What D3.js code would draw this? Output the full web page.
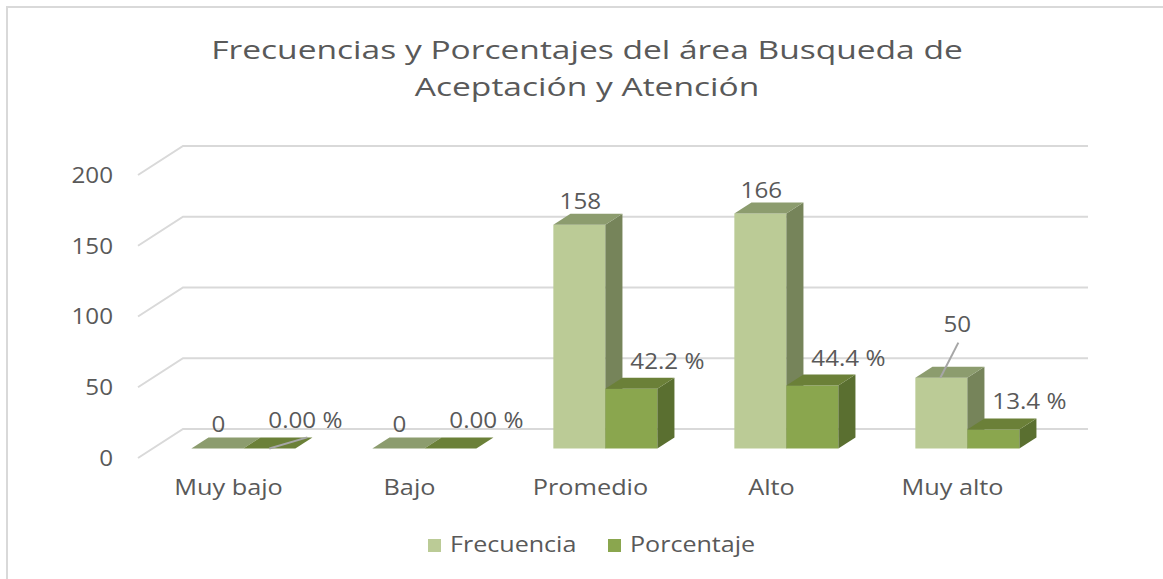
<!DOCTYPE html>
<html>
<head>
<meta charset="utf-8">
<script src="https://cdn.jsdelivr.net/npm/d3@7"></script>
<style>
  body { margin: 0; background: #fff; }
  svg { display: block; }
  text { font-family: "Open Sans", sans-serif; fill: #595959; }
</style>
</head>
<body>
<svg id="chart" width="1163" height="579"></svg>
<script>
// datos del gráfico
const categories = ['Muy bajo', 'Bajo', 'Promedio', 'Alto', 'Muy alto']
const frecuencia = [0, 0, 158, 166, 50]
const porcentaje = [0, 0, 42.2, 44.4, 13.4]
const porcentajeLabels = ['0.00 %', '0.00 %', '42.2 %', '44.4 %', '13.4 %']
const yTicks = [0, 50, 100, 150, 200]
const seriesNames = ['Frecuencia', 'Porcentaje']
const titleLines = ['Frecuencias y Porcentajes del área Busqueda de', 'Aceptación y Atención']

const colors = {
  Frecuencia: { front: '#bbcb96', side: '#76845a', top: '#8c9c6e' },
  Porcentaje: { front: '#8aa64e', side: '#5a6f30', top: '#6b8038' }
}

const DX = 45, DY = -29       // profundidad del piso
const Z0 = 0.33, Z1 = 0.71     // profundidad de las barras
const BAR_W = 52
const STRETCH = 1.1           // estirar texto en horizontal
const STRETCH_CAT = 1.15

const svg = d3.select('#chart')

const x = d3.scaleBand().domain(categories).range([138, 1043])
const y = d3.scaleLinear().domain([0, 200]).range([458, 175])

function pt(px, v, z) {
  return [px + z * DX, y(v) + z * DY]
}

function stretchText(sel, tx, ty, s) {
  return sel.attr('transform', `translate(${tx},${ty}) scale(${s},1)`)
}

// borde
svg.append('path')
  .attr('d', 'M7,579 V7 H1163')
  .attr('fill', 'none')
  .attr('stroke', '#d9d9d9')
  .attr('stroke-width', 2)

// título
titleLines.forEach((t, i) => {
  stretchText(svg.append('text')
    .attr('text-anchor', 'middle')
    .style('font-size', '26px')
    .text(t), 587, 59 + i * 37, 1.29)
})

/* ------- GRID ------- */
const grid = svg.append('g').attr('class', 'grid')
yTicks.forEach((v) => {
  const a = pt(x.range()[0], v, 0)
  const b = pt(x.range()[0], v, 1)
  const c = pt(x.range()[1], v, 1)
  grid.append('polyline')
    .attr('points', [a, b, c].join(' '))
    .attr('fill', 'none')
    .attr('stroke', '#d9d9d9')
    .attr('stroke-width', 2)

  stretchText(svg.append('text')
    .attr('text-anchor', 'end')
    .attr('dy', '0.36em')
    .style('font-size', '22px')
    .text(v), 113, y(v), STRETCH)
})

/* ------- BARS ------- */
const bars = svg.append('g').attr('class', 'bars')

function drawBar(px, v, c) {
  const g = bars.append('g')
  const fbl = pt(px, 0, Z0), fbr = pt(px + BAR_W, 0, Z0)
  const ftl = pt(px, v, Z0), ftr = pt(px + BAR_W, v, Z0)
  const btl = pt(px, v, Z1), btr = pt(px + BAR_W, v, Z1)
  const bbr = pt(px + BAR_W, 0, Z1)
  if (v > 0) {
    g.append('polygon').attr('points', [fbl, fbr, ftr, ftl].join(' ')).attr('fill', c.front)
    g.append('polygon').attr('points', [fbr, bbr, btr, ftr].join(' ')).attr('fill', c.side)
  }
  g.append('polygon').attr('points', [ftl, ftr, btr, btl].join(' ')).attr('fill', c.top)
  return { ftl, ftr, btl, btr }
}

const labelFont = '22px'

categories.forEach((cat, i) => {
  const left = x(cat) + x.bandwidth() / 2 - BAR_W
  const f = drawBar(left, frecuencia[i], colors.Frecuencia)
  const p = drawBar(left + BAR_W, porcentaje[i], colors.Porcentaje)

  // etiqueta frecuencia
  let fx = (f.ftl[0] + f.ftr[0]) / 2 + 1
  let fy = f.btl[1] - 5
  if (i === 4) {
    // etiqueta desplazada con línea guía
    fx += 15
    fy -= 30
    bars.append('line')
      .attr('x1', fx - 17).attr('y1', f.ftl[1])
      .attr('x2', fx + 1).attr('y2', fy + 11)
      .attr('stroke', '#a6a6a6').attr('stroke-width', 2)
  }
  stretchText(svg.append('text')
    .attr('text-anchor', 'middle')
    .style('font-size', labelFont)
    .text(frecuencia[i]), fx, fy, STRETCH)

  // etiqueta porcentaje
  const px = p.ftl[0] + 25
  const py = p.btl[1] - 9
  if (i === 0) {
    bars.append('line')
      .attr('x1', px + 1).attr('y1', p.ftl[1])
      .attr('x2', px + 39).attr('y2', py + 9)
      .attr('stroke', '#a6a6a6').attr('stroke-width', 2)
  }
  stretchText(svg.append('text')
    .attr('text-anchor', 'start')
    .style('font-size', labelFont)
    .text(porcentajeLabels[i]), px, py, STRETCH)

  // categoría
  stretchText(svg.append('text')
    .attr('text-anchor', 'middle')
    .style('font-size', '22px')
    .text(cat), x(cat) + x.bandwidth() / 2, 495, STRETCH_CAT)
})

/* ------- LEGEND ------- */
const legend = svg.append('g').attr('class', 'legend')
const legendX = [428, 608]
seriesNames.forEach((name, i) => {
  legend.append('rect')
    .attr('x', legendX[i]).attr('y', 539)
    .attr('width', 13).attr('height', 13)
    .attr('fill', colors[name].front)
  stretchText(legend.append('text')
    .style('font-size', '22px')
    .text(name), legendX[i] + 22, 552, 1.14)
})
</script>
</body>
</html>
